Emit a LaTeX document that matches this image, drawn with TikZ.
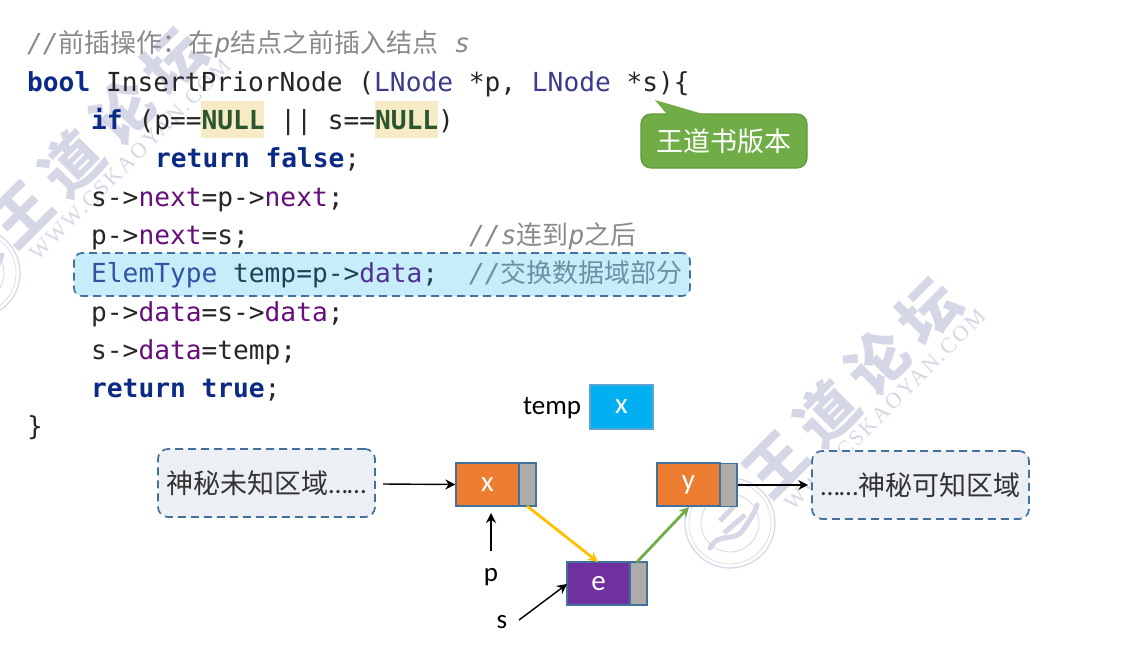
\documentclass[tikz,border=0pt]{standalone}
\usepackage{fontspec}
\usepackage{xcolor}
\setmainfont{Carlito}
\setmonofont{DejaVu Sans Mono}
\newfontfamily\cjk{Noto Sans CJK SC}
\newfontfamily\cjkwm[LetterSpace=20]{Noto Sans CJK SC}
\newfontfamily\urlwm[LetterSpace=10]{Liberation Serif}
\usetikzlibrary{arrows.meta}
\definecolor{kw}{HTML}{0B2A86}
\definecolor{fld}{HTML}{660E7A}
\definecolor{typ}{HTML}{3B3B8E}
\definecolor{cmt}{HTML}{8A8A8A}
\definecolor{nullc}{HTML}{2B5530}
\definecolor{nullbg}{HTML}{F6EBC4}
\definecolor{edge}{HTML}{41719C}
\definecolor{wm}{HTML}{D5D7E6}
\definecolor{nextc}{HTML}{AEABAB}
\definecolor{regionc}{HTML}{ECEFF3}
\definecolor{callfill}{HTML}{70AD47}
\definecolor{calledge}{HTML}{5F9A3A}
\definecolor{tempc}{HTML}{00B0F0}
\definecolor{tempd}{HTML}{5BA3D0}
\definecolor{dataor}{HTML}{ED7D31}
\definecolor{datapu}{HTML}{7030A0}
\definecolor{yel}{HTML}{FFC000}
\definecolor{hlc}{HTML}{00AEEF}
\newcommand{\K}[1]{\textcolor{kw}{\bfseries #1}}
\newcommand{\F}[1]{\textcolor{fld}{#1}}
\newcommand{\T}[1]{\textcolor{typ}{#1}}
\newcommand{\C}[1]{\textcolor{cmt}{#1}}
\newcommand{\Cz}[1]{{\cjk\fontsize{26}{26}\selectfont #1}}
\newcommand{\N}{\textcolor{nullc}{\bfseries NULL}}
\newcommand{\low}[1]{\raisebox{-2.5pt}{#1}}
\newcommand{\wmark}[3]{%
  \begin{scope}[shift={(#1,#2)}]
    \node[rotate=45,text=wm,font=\cjkwm\bfseries\fontsize{60}{60}\selectfont,inner sep=0pt] (wmt#3) at (97,138) {王道论坛};
    \node[rotate=45,text=wm,font=\urlwm\fontsize{22}{22}\selectfont,inner sep=0pt] (wmu#3) at (130,160) {WWW.CSKAOYAN.COM};
    \draw[wm,line width=1.2pt] (-25,273) circle (45);
    \draw[wm,line width=0.6pt] (-25,273) circle (41);
    \draw[wm,line width=0.8pt] (-25,273) circle (29);
    \draw[wm,line width=5pt] (-35,271) -- (-20,255);
    \draw[wm,line width=5pt] (-31,283) -- (-10,265);
    \draw[wm,line width=5pt,line cap=round] (-45,298) .. controls (-35,280) and (-20,295) .. (-10,277) .. controls (-5,270) and (0,262) .. (2,255);
  \end{scope}}
\tikzset{
  x=1pt,y=-1pt,
  code/.style={anchor=base west,inner sep=0pt,font=\ttfamily\fontsize{26.2}{26.2}\selectfont,text=black!85},
  databox/.style={draw=edge,line width=1.3pt,inner sep=0pt,text=white,font=\fontsize{29}{29}\selectfont,minimum width=63pt,minimum height=43pt},
  nextbox/.style={draw=edge,line width=1.3pt,fill=nextc,inner sep=0pt,minimum width=17pt,minimum height=43pt},
  region/.style={draw=edge,dash pattern=on 8pt off 5pt,line width=1.7pt,rounded corners=10pt,fill=regionc,inner sep=0pt,text=black!80,font=\cjk\fontsize{27}{27}\selectfont,minimum width=217pt,minimum height=68pt},
  lbl/.style={inner sep=0pt,text=black,font=\fontsize{27}{27}\selectfont},
  blk/.style={-{Stealth[length=10pt,width=10pt]},line width=1.4pt,black},
  bold arrow/.style={-{Stealth[length=10pt,width=10pt]},line width=2.8pt},
}
\begin{document}
\begin{tikzpicture}
\useasboundingbox (0,0) rectangle (1135,646);
\fill[white] (0,0) rectangle (1135,646);
\wmark{0}{0}{a}
\wmark{755}{250}{b}
\fill[nullbg] (201,101) rectangle (264,138);
\fill[nullbg] (375,101) rectangle (438,138);
\node[code] (l1) at (27,52) {\C{\textit{//}\Cz{前插操作：在}\textit{p}\Cz{结点之前插入结点} \textit{s}}};
\node[code] (l2) at (27,91) {\K{bool} InsertPriorNode (\T{LNode} *p, \T{LNode} *s)\{};
\node[code] (l3) at (91,129) {\K{if} (p==\N{} || s==\N)};
\node[code] (l4) at (155,167) {\K{return false};};
\node[code] (l5) at (91,206) {s->\F{next}=p->\F{next};};
\node[code] (l6) at (91,244) {p->\F{next}=s;};
\node[code] (l6c) at (469,244) {\C{\textit{//s}\Cz{连到}\textit{p}\Cz{之后}}};
\node[code] (l7) at (91,282) {\T{ElemType} temp=p->\F{data};};
\node[code] (l7c) at (469,282) {\C{\textit{//}\Cz{交换数据域部分}}};
\node[code] (l8) at (91,321) {p->\F{data}=s->\F{data};};
\node[code] (l9) at (91,359) {s->\F{data}=temp;};
\node[code] (l10) at (91,397) {\K{return true};};
\node[code] (l11) at (27,435) {\}};
\node[draw=edge,dash pattern=on 8pt off 5pt,line width=1.7pt,rounded corners=8pt,fill=hlc,fill opacity=0.22,draw opacity=1,minimum width=616pt,minimum height=43pt,inner sep=0pt] (hl) at (382,274.5) {};
\node[draw=calledge,line width=1.2pt,rounded corners=10pt,fill=callfill,inner sep=0pt,minimum width=166pt,minimum height=54pt,text=white,font=\cjk\fontsize{27}{27}\selectfont] (call) at (724,141) {\low{王道书版本}};
\path[fill=callfill] (668,115.5) -- (655,100) -- (708,115.5) -- cycle;
\node[lbl] (tl) at (552,408) {temp};
\node[databox,fill=tempc,draw=tempd,minimum height=44pt] (tb) at (621.5,407) {\low{x}};
\node[region] (rl) at (266.5,483) {\low{神秘未知区域{\rmfamily\fontsize{27}{27}\selectfont ……}}};
\node[region] (rr) at (920.5,485) {\low{{\rmfamily\fontsize{27}{27}\selectfont ……}神秘可知区域}};
\node[databox,fill=dataor] (x) at (487.5,484.5) {\low{x}};
\node[nextbox] (xn) at (527.5,484.5) {};
\node[databox,fill=dataor] (y) at (688.5,484.5) {\low{y}};
\node[nextbox] (yn) at (728.5,485) {};
\node[databox,fill=datapu] (e) at (598.5,583.5) {\low{e}};
\node[nextbox] (en) at (638.5,583.5) {};
\node[lbl] (p) at (491,577) {p};
\node[lbl] (s) at (502,622) {s};
\coordinate (xnb) at (527,506);
\coordinate (ent) at (598,562);
\coordinate (ent2) at (637,562);
\coordinate (ybt) at (689,507);
\coordinate (pt) at (491,513);
\coordinate (pf) at (491,551);
\coordinate (sf) at (519,620);
\coordinate (st) at (567,584);
\coordinate (rlo) at (383,484);
\draw[blk] (rlo) -- (x.west);
\draw[blk,shorten >=3pt] (yn.east) -- (rr.west);
\draw[blk] (pf) -- (pt);
\draw[blk] (sf) -- (st);
\draw[bold arrow,color=yel] (xnb) -- (ent);
\draw[bold arrow,color=callfill] (ent2) -- (ybt);
\end{tikzpicture}
\end{document}
